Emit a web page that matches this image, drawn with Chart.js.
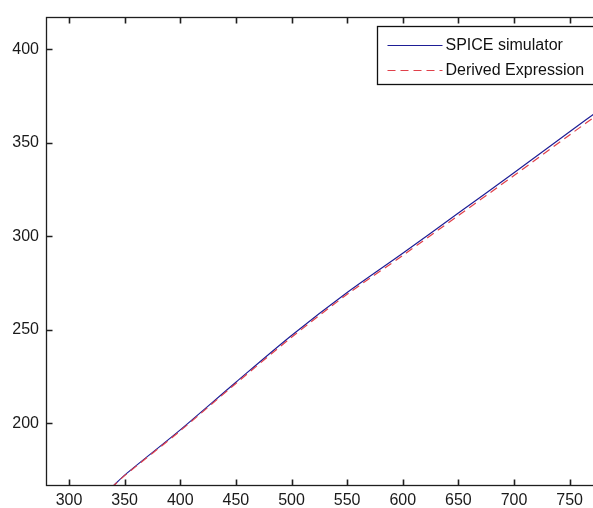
<!DOCTYPE html>
<html>
<head>
<meta charset="utf-8">
<script src="https://cdn.jsdelivr.net/npm/chart.js@4.4.0/dist/chart.umd.min.js"></script>
<style>
  html, body { margin: 0; padding: 0; background: #fff; overflow: hidden; }
  #wrap { width: 593px; height: 508px; overflow: hidden; }
</style>
</head>
<body>
<div id="wrap"><canvas id="chart" width="608" height="508"></canvas></div>
<script>
const xValues = [338, 350, 400, 450, 500, 550, 600, 650, 700, 750, 780];
const spiceValues = [165.5, 172.3, 196.5, 222, 247, 270, 291, 312.5, 334, 356, 369];
const derivedValues = [165.5, 172, 196, 221.3, 246, 269, 289.8, 311.2, 332.6, 354.3, 367.2];
const seriesNames = ['SPICE simulator', 'Derived Expression'];
const xTicks = [300, 350, 400, 450, 500, 550, 600, 650, 700, 750];
const yTicks = [200, 250, 300, 350, 400];
const xRange = [279.3, 780];
const yRange = [167, 417.6];

const fontFamily = "'Liberation Sans', Arial, sans-serif";
const axisColor = '#1e1e1e';

function toPoints(ys) {
    return xValues.map((x, i) => ({ x: x, y: ys[i] }));
}

// MATLAB style box: inward ticks on all sides + legend inside the axes
const matlabAxes = {
    id: 'matlabAxes',
    afterDraw(chart) {
        const ctx = chart.ctx;
        const a = chart.chartArea;
        const xs = chart.scales.x, ys = chart.scales.y;
        const tick = 6;
        const left = Math.round(a.left) + 0.5, right = Math.round(a.right) + 0.5;
        const top = Math.round(a.top) + 0.5, bottom = Math.round(a.bottom) + 0.5;
        ctx.save();
        ctx.setLineDash([]);
        ctx.strokeStyle = axisColor;
        ctx.lineWidth = 1.6;
        ctx.beginPath();
        xTicks.forEach(v => {
            const px = Math.round(xs.getPixelForValue(v)) + 0.5;
            ctx.moveTo(px, bottom); ctx.lineTo(px, bottom - tick);
            ctx.moveTo(px, top); ctx.lineTo(px, top + tick);
        });
        yTicks.forEach(v => {
            const py = Math.round(ys.getPixelForValue(v)) + 0.5;
            ctx.moveTo(left, py); ctx.lineTo(left + tick, py);
            ctx.moveTo(right, py); ctx.lineTo(right - tick, py);
        });
        ctx.stroke();
        ctx.lineWidth = 1.3;
        ctx.strokeRect(left, top, right - left, bottom - top);

        // legend
        const bx = 377.5, by = top + 9;
        const bw = right - 6 - bx, bh = 58;
        ctx.fillStyle = '#fff';
        ctx.fillRect(bx, by, bw, bh);
        ctx.lineWidth = 1.3;
        ctx.strokeStyle = '#111';
        ctx.strokeRect(bx, by, bw, bh);
        ctx.font = '16px ' + fontFamily;
        ctx.textBaseline = 'middle';
        ctx.textAlign = 'left';
        chart.data.datasets.forEach((ds, i) => {
            const ly = Math.round(by + 18 + i * 25) + 0.5;
            ctx.lineWidth = 1.2;
            ctx.strokeStyle = ds.borderColor;
            ctx.setLineDash(ds.borderDash || []);
            ctx.beginPath();
            ctx.moveTo(bx + 10, ly);
            ctx.lineTo(bx + 65, ly);
            ctx.stroke();
            ctx.setLineDash([]);
            ctx.fillStyle = '#111';
            ctx.fillText(ds.label, bx + 68, ly);
        });
        ctx.restore();
    }
};

const tickFont = { family: fontFamily, size: 16 };

new Chart(document.getElementById('chart'), {
    type: 'line',
    data: {
        datasets: [
            {
                label: seriesNames[0],
                data: toPoints(spiceValues),
                borderColor: '#1e1e96',
                borderWidth: 1.2,
                pointRadius: 0,
                tension: 0.3,
                order: 2
            },
            {
                label: seriesNames[1],
                data: toPoints(derivedValues),
                borderColor: '#e0404a',
                borderWidth: 1.2,
                borderDash: [8, 5],
                pointRadius: 0,
                tension: 0.3,
                order: 1
            }
        ]
    },
    options: {
        responsive: false,
        animation: false,
        devicePixelRatio: 1,
        layout: { padding: { top: 11.4, right: 5, left: 0, bottom: 0 } },
        plugins: { legend: { display: false }, tooltip: { enabled: false } },
        scales: {
            x: {
                type: 'linear',
                min: xRange[0],
                max: xRange[1],
                afterBuildTicks: s => { s.ticks = xTicks.map(v => ({ value: v })); },
                afterFit: s => { s.height = 23; },
                grid: { display: false, drawTicks: false },
                border: { display: false },
                ticks: { padding: 6, font: tickFont, color: '#1a1a1a', maxRotation: 0, callback: v => v }
            },
            y: {
                type: 'linear',
                min: yRange[0],
                max: yRange[1],
                afterBuildTicks: s => { s.ticks = yTicks.map(v => ({ value: v })); },
                afterFit: s => { s.width = 46; },
                grid: { display: false, drawTicks: false },
                border: { display: false },
                ticks: { padding: 7, font: tickFont, color: '#1a1a1a', callback: v => v }
            }
        }
    },
    plugins: [matlabAxes]
});
</script>
</body>
</html>
